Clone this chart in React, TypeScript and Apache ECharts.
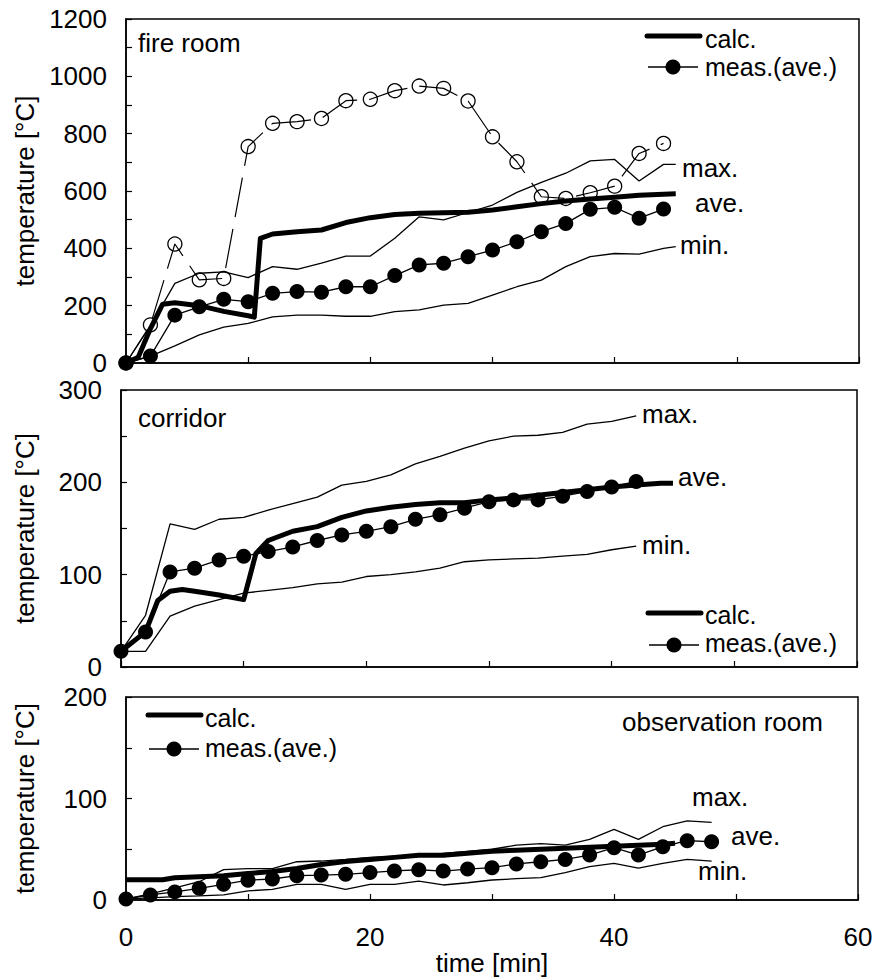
import React, { useEffect, useRef } from "react";
import * as echarts from "echarts";

type P = [number, number];

// ---------- fire room ----------
const fireCalc: P[] = [[0,0],[1,20],[2,120],[3,205],[4,210],[6,200],[8,180],[10,165],[10.5,160],[11,435],[12,450],[14,458],[16,464],[18,490],[20,507],[22,518],[24,522],[26,524],[28,526],[30,534],[32,545],[34,556],[36,565],[38,572],[40,578],[42,585],[44,589],[45,590]];
const fireMeas: P[] = [[0,0],[2,24],[4,167],[6,196],[8,222],[10,214],[12,243],[14,249],[16,247],[18,266],[20,266],[22,305],[24,342],[26,348],[28,371],[30,394],[32,423],[34,458],[36,487],[38,536],[40,543],[42,505],[44,537]];
const fireOpen: P[] = [[0,0],[2,133],[4,415],[6,290],[8,295],[10,755],[12,836],[14,842],[16,853],[18,915],[20,920],[22,950],[24,966],[26,958],[28,914],[30,789],[32,702],[34,580],[36,574],[38,594],[40,617],[42,731],[44,766]];
const fireMax: P[] = [[0,0],[2,130],[4,278],[6,313],[8,318],[10,298],[12,336],[14,327],[16,348],[18,373],[20,373],[22,435],[24,510],[26,499],[28,525],[30,551],[32,595],[34,630],[36,662],[38,705],[40,710],[42,635],[44,693],[45,693]];
const fireMin: P[] = [[0,0],[2,24],[4,60],[6,98],[8,125],[10,138],[12,161],[14,167],[16,167],[18,163],[20,163],[22,179],[24,185],[26,202],[28,208],[30,237],[32,266],[34,289],[36,336],[38,371],[40,382],[42,380],[44,400],[45,406]];

// ---------- corridor ----------
const corCalc: P[] = [[0,17],[2,38],[3,72],[4,82],[5,84],[6,82],[8,78],[10,73],[11,123],[12,137],[14,147],[16,152],[18,162],[20,169],[22,173],[24,176],[26,178],[28,178],[30,181],[32,183],[34,186],[36,189],[38,192],[40,195],[42,197],[44,199],[45,199]];
const corMeas: P[] = [[0,17],[2,38],[4,103],[6,107],[8,116],[10,120],[12,125],[14,130],[16,137],[18,143],[20,147],[22,152],[24,160],[26,165],[28,172],[30,179],[32,181],[34,181],[36,185],[38,190],[40,195],[42,201]];
const corMax: P[] = [[0,17],[2,56],[4,155],[6,149],[8,160],[10,162],[12,170],[14,177],[16,184],[18,197],[20,201],[22,208],[24,220],[26,228],[28,237],[30,245],[32,250],[34,251],[36,254],[38,263],[40,266],[42,272]];
const corMin: P[] = [[0,17],[2,17],[4,55],[6,66],[8,73],[10,80],[12,83],[14,86],[16,90],[18,92],[20,98],[22,100],[24,103],[26,107],[28,114],[30,116],[32,117],[34,118],[36,120],[38,122],[40,127],[42,131]];

// ---------- observation room ----------
const obsCalc: P[] = [[0,20],[2,20],[3,20],[4,22],[6,23],[8,24],[10,26],[12,28],[14,31],[16,35],[18,38],[20,40],[22,42],[24,44],[26,44],[28,46],[30,48],[32,49],[34,50],[36,51],[38,52],[40,53],[42,54],[44,55],[45,56]];
const obsMeas: P[] = [[0,1],[2,5],[4,8],[6,11.5],[8,15.5],[10,19.5],[12,20.7],[14,24],[16,24.6],[18,25.3],[20,27],[22,28.6],[24,29.8],[26,28.5],[28,30.5],[30,31.8],[32,35.5],[34,37.7],[36,40],[38,44.3],[40,51.5],[42,44.3],[44,52.5],[46,58.4],[48,57.4]];
const obsMax: P[] = [[0,1],[2,6],[4,12],[6,18],[8,30],[10,31],[12,31],[14,37.7],[16,38.4],[18,40],[20,42],[22,43],[24,44],[26,46],[28,48],[30,50],[32,54],[34,55.5],[36,54],[38,59.8],[40,69.6],[42,59.8],[44,72.2],[46,78],[48,76.5]];
const obsMin: P[] = [[0,1],[2,2],[4,3.3],[6,4],[8,5],[10,9],[12,10.5],[14,15.4],[16,15.4],[18,10.5],[20,15.4],[22,15.4],[24,18.7],[26,14.8],[28,17],[30,19.7],[32,21],[34,22],[36,27],[38,32.8],[40,36],[42,31.5],[44,36],[46,40],[48,38.4]];

const yTitle = "temperature [°C]";
const xTitle = "time [min]";
const FONT = "'Liberation Sans', Arial, sans-serif";
const FS = 26;
const LFS = 25;

export default function App() {
  const ref = useRef<HTMLDivElement>(null);
  useEffect(() => {
    document.body.style.margin = "0";
    const chart = echarts.init(ref.current!, null, { renderer: "svg" });

    const grids = [
      { left: 126, top: 19, width: 733, height: 344 },
      { left: 121, top: 390, width: 736, height: 277 },
      { left: 126, top: 697, width: 732, height: 203 },
    ].map((g) => ({
      ...g,
      show: true,
      borderColor: "#000",
      borderWidth: 1.5,
      backgroundColor: "transparent",
      containLabel: false,
      outerBoundsMode: "none",
    }));

    const mkX = (i: number, labels: boolean) => ({
      type: "value",
      gridIndex: i,
      min: 0,
      max: 60,
      interval: 10,
      axisLine: { show: true, lineStyle: { color: "#000", width: 1.5 } },
      axisTick: { show: true, inside: true, length: 6, lineStyle: { color: "#000", width: 1.2 } },
      axisLabel: {
        show: labels,
        margin: 24,
        color: "#000",
        fontSize: FS,
        fontFamily: FONT,
        formatter: (v: number) => (v % 20 === 0 ? String(v) : ""),
      },
      splitLine: { show: false },
      name: labels ? xTitle : "",
      nameLocation: "middle",
      nameGap: 50,
      nameMoveOverlap: false,
      nameTextStyle: { color: "#000", fontSize: FS, fontFamily: FONT },
    });

    const mkY = (i: number, max: number, interval: number, every: number, gap: number) => ({
      type: "value",
      gridIndex: i,
      min: 0,
      max,
      interval,
      axisLine: { show: true, lineStyle: { color: "#000", width: 1.5 } },
      axisTick: { show: true, inside: true, length: 6, lineStyle: { color: "#000", width: 1.2 } },
      axisLabel: {
        margin: 19,
        color: "#000",
        fontSize: FS,
        fontFamily: FONT,
        formatter: (v: number) => (v % every === 0 ? String(v) : ""),
      },
      splitLine: { show: false },
      name: yTitle,
      nameLocation: "middle",
      nameGap: gap,
      nameMoveOverlap: false,
      nameTextStyle: { color: "#000", fontSize: FS, fontFamily: FONT },
    });

    const thin = (i: number, data: P[]) => ({
      type: "line",
      xAxisIndex: i,
      yAxisIndex: i,
      data,
      symbol: "none",
      lineStyle: { color: "#000", width: 1.3 },
      z: 2,
      emphasis: { disabled: true },
    });
    const meas = (i: number, data: P[]) => ({
      type: "line",
      xAxisIndex: i,
      yAxisIndex: i,
      data,
      symbol: "circle",
      symbolSize: 15,
      itemStyle: { color: "#000" },
      lineStyle: { color: "#000", width: 1.3 },
      z: 3,
      emphasis: { disabled: true },
    });
    const calc = (i: number, data: P[]) => ({
      type: "line",
      xAxisIndex: i,
      yAxisIndex: i,
      data,
      symbol: "none",
      lineStyle: { color: "#000", width: 5, join: "round" },
      z: 4,
      emphasis: { disabled: true },
    });

    const txt = (text: string, x: number, y: number, fs: number = FS) => ({
      type: "text",
      x,
      y,
      style: { text, fill: "#000", fontSize: fs, fontFamily: FONT, verticalAlign: "middle", align: "left" },
      z: 10,
    });
    const legend = (x: number, yCalc: number, yMeas: number, tx: number, tyCalc: number, tyMeas: number) => [
      { type: "line", shape: { x1: x, y1: yCalc, x2: x + 53, y2: yCalc }, style: { stroke: "#000", lineWidth: 5, lineCap: "round" }, z: 10 },
      txt("calc.", tx, tyCalc, LFS),
      { type: "line", shape: { x1: x + 1, y1: yMeas, x2: x + 51, y2: yMeas }, style: { stroke: "#000", lineWidth: 1.3 }, z: 10 },
      { type: "circle", shape: { cx: x + 26, cy: yMeas, r: 7.5 }, style: { fill: "#000" }, z: 10 },
      txt("meas.(ave.)", tx, tyMeas, LFS),
    ];

    const option = {
      animation: false,
      backgroundColor: "#fff",
      textStyle: { fontFamily: FONT },
      grid: grids,
      xAxis: [mkX(0, false), mkX(1, false), mkX(2, true)],
      yAxis: [mkY(0, 1200, 100, 200, 88), mkY(1, 300, 50, 100, 83), mkY(2, 200, 50, 100, 88)],
      series: [
        thin(0, fireMax),
        thin(0, fireMin),
        {
          type: "line",
          xAxisIndex: 0,
          yAxisIndex: 0,
          data: fireOpen,
          symbol: "circle",
          symbolSize: 14,
          itemStyle: { color: "rgba(0,0,0,0)", borderColor: "#000", borderWidth: 1.3 },
          lineStyle: { color: "#000", width: 1.2, type: [40, 12] },
          z: 3,
          emphasis: { disabled: true },
        },
        meas(0, fireMeas),
        calc(0, fireCalc),
        thin(1, corMax),
        thin(1, corMin),
        meas(1, corMeas),
        calc(1, corCalc),
        thin(2, obsMax),
        thin(2, obsMin),
        meas(2, obsMeas),
        calc(2, obsCalc),
      ],
      graphic: [
        txt("fire room", 138, 43),
        txt("max.", 682, 168),
        txt("ave.", 695, 203),
        txt("min.", 680, 245),
        ...legend(647, 36, 67, 705, 39, 67),
        txt("corridor", 138, 418),
        txt("max.", 642, 414),
        txt("ave.", 678, 477),
        txt("min.", 642, 545),
        ...legend(648, 613, 645, 705, 615, 643),
        txt("observation room", 622, 722),
        txt("max.", 692, 797),
        txt("ave.", 731, 836),
        txt("min.", 698, 871),
        ...legend(148, 715, 749, 205, 718, 748),
      ],
    };
    chart.setOption(option as any);
    return () => chart.dispose();
  }, []);
  return <div ref={ref} style={{ width: 872, height: 978 }} />;
}
